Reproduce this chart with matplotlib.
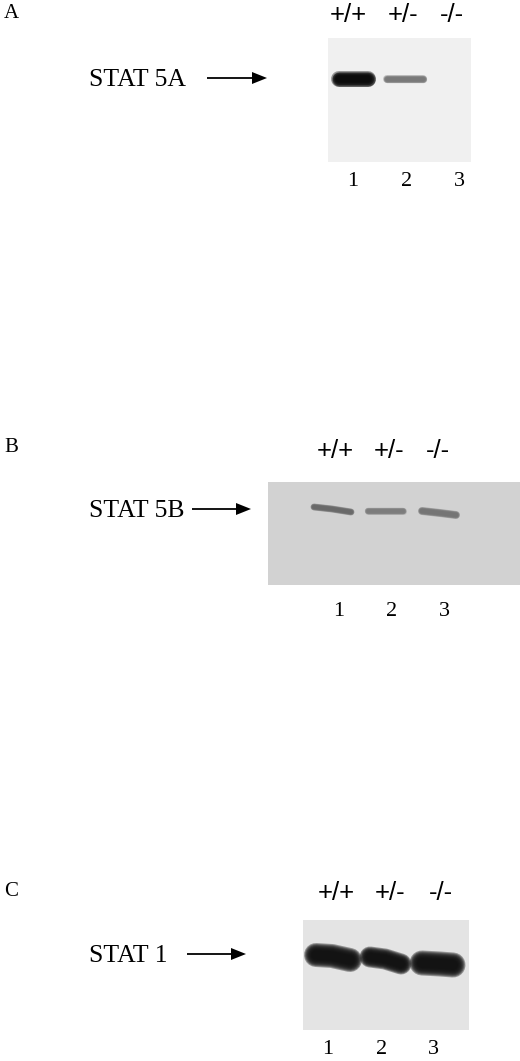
import matplotlib
matplotlib.use('Agg')
import matplotlib.pyplot as plt
from matplotlib.patches import Rectangle, FancyArrow

plt.rcParams['font.family'] = ['Liberation Serif', 'DejaVu Serif']

genotypes = ['+/+', '+/-', '-/-']
lanes = ['1', '2', '3']

# panel name, protein label
panels = ['A', 'B', 'C']
proteins = ['STAT 5A', 'STAT 5B', 'STAT 1']

# blots in image pixels: left, top, right, bottom, grey
blot_a = [328, 38, 471, 162, '#f0f0f0']
blot_b = [268, 482, 520, 585, '#d2d2d2']
blot_c = [303, 920, 469, 1030, '#e4e4e4']

# bands: x points, y points, thickness, colour
bands_a = [
    ([339, 368], [79, 79], 16, '#080808'),
    ([387, 423], [79, 79], 8, '#787878'),
]
bands_b = [
    ([314, 332, 351], [507, 509, 512], 7, '#686868'),
    ([368, 385, 403], [511, 511, 511], 7, '#7c7c7c'),
    ([422, 440, 456], [511, 513, 515], 8, '#747474'),
]
bands_c = [
    ([316, 332, 350], [955, 956, 960], 24, '#101010'),
    ([370, 385, 401], [957, 959, 964], 21, '#101010'),
    ([422, 440, 453], [963, 964, 965], 25, '#101010'),
]

# text positions
label_x = [89, 89, 89]
label_y = [80, 511, 956]
arrow_y = [78, 509, 954]
arrow_x = [207, 192, 187]
arrow_end = [267, 251, 246]
letter_y = [13, 448, 891]
geno_x = [[348, 403, 452], [335, 389, 438], [336, 390, 441]]
geno_y = [15, 451, 893]
lane_x = [[353, 407, 459], [339, 392, 444], [328, 382, 433]]
lane_y = [181, 611, 1050]

fig = plt.figure(figsize=(5.2, 10.61), dpi=100)
ax = fig.add_axes([0, 0, 1, 1])
ax.set_xlim(0, 520)
ax.set_ylim(1061, 0)
ax.axis('off')


def draw_band(x, y, thick, col):
    # stacked round lines give the soft film edge
    for scale in [1.0, 0.92, 0.84, 0.76, 0.68, 0.6, 0.5, 0.4]:
        ax.plot(x, y, color=col, lw=thick*scale*0.72, alpha=0.38,
                solid_capstyle='round', solid_joinstyle='round')


for i, (blot, bands) in enumerate(zip([blot_a, blot_b, blot_c],
                                      [bands_a, bands_b, bands_c])):
    x0, y0, x1, y1, grey = blot
    ax.add_patch(Rectangle((x0, y0), x1-x0, y1-y0, fc=grey, ec='none'))
    for x, y, thick, col in bands:
        draw_band(x, y, thick, col)

    ax.text(4, letter_y[i], panels[i], fontsize=15, ha='left', va='center')
    ax.text(label_x[i], label_y[i], proteins[i], fontsize=18.5, ha='left', va='center')
    ax.add_patch(FancyArrow(arrow_x[i], arrow_y[i], arrow_end[i]-arrow_x[i], 0,
                            width=1.8, head_width=12, head_length=15,
                            length_includes_head=True, fc='black', ec='none'))
    for gx, g in zip(geno_x[i], genotypes):
        ax.text(gx, geno_y[i], g, family='Liberation Sans', fontsize=18.5,
                ha='center', va='center')
    for lx, l in zip(lane_x[i], lanes):
        ax.text(lx, lane_y[i], l, fontsize=16, ha='center', va='center')

fig.savefig('out.png', dpi=100)
